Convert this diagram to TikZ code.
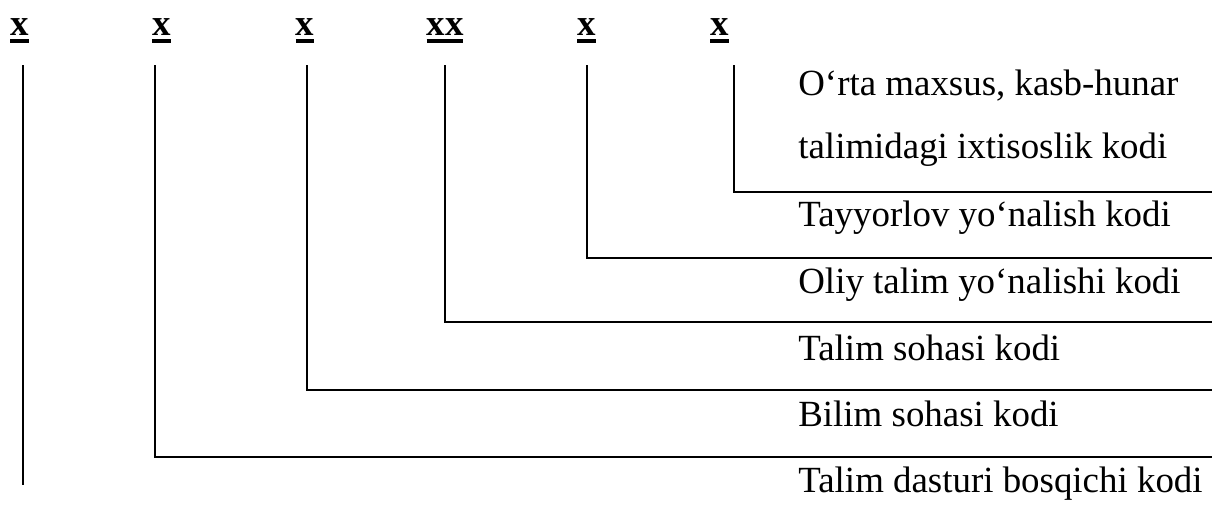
\documentclass[tikz,border=0pt]{standalone}
\usepackage{fontspec}
\setmainfont{Liberation Serif}

% bold digit with a heavy underline
\newcommand{\codemark}[1]{\setbox0\hbox{#1}\rlap{\raisebox{-4.5pt}{\rule{\wd0}{2.2pt}}}\box0}

\tikzset{
  code/.style={font=\fontsize{21}{25}\selectfont\bfseries, inner sep=0pt, anchor=base},
  desc/.style={font=\fontsize{21}{25}\selectfont, inner sep=0pt, anchor=base west},
  leader/.style={line width=1.6pt},
}

\begin{document}
\begin{tikzpicture}[x=0.02cm, y=-0.02cm]
\useasboundingbox (0,0) rectangle (1218,515);

% the code digits
\node[code] (c1) at (19.5,35)  {\codemark{x}};
\node[code] (c2) at (161.5,35) {\codemark{x}};
\node[code] (c3) at (305,35)   {\codemark{x}};
\node[code] (c4) at (445,35)   {\codemark{xx}};
\node[code] (c5) at (586.5,35) {\codemark{x}};
\node[code] (c6) at (719.5,35) {\codemark{x}};

% what each digit means
\node[desc] (d6a) at (798,95)  {O‘rta maxsus, kasb-hunar};
\node[desc] (d6b) at (798,158) {talimidagi ixtisoslik kodi};
\node[desc] (d5)  at (798,226) {Tayyorlov yo‘nalish kodi};
\node[desc] (d4)  at (798,293) {Oliy talim yo‘nalishi kodi};
\node[desc] (d3)  at (798,360) {Talim sohasi kodi};
\node[desc] (d2)  at (798,426) {Bilim sohasi kodi};
\node[desc] (d1)  at (798,492) {Talim dasturi bosqichi kodi};

% leader lines
\coordinate (t1) at (23,65);  \coordinate (e1) at (23,485);
\coordinate (t2) at (155,65); \coordinate (e2) at (1212,457);
\coordinate (t3) at (307,65); \coordinate (e3) at (1212,390);
\coordinate (t4) at (445,65); \coordinate (e4) at (1212,322);
\coordinate (t5) at (587,65); \coordinate (e5) at (1212,258);
\coordinate (t6) at (734,65); \coordinate (e6) at (1212,192);

\draw[leader] (t1) -- (e1);
\draw[leader] (t2) |- (e2);
\draw[leader] (t3) |- (e3);
\draw[leader] (t4) |- (e4);
\draw[leader] (t5) |- (e5);
\draw[leader] (t6) |- (e6);
\end{tikzpicture}
\end{document}
